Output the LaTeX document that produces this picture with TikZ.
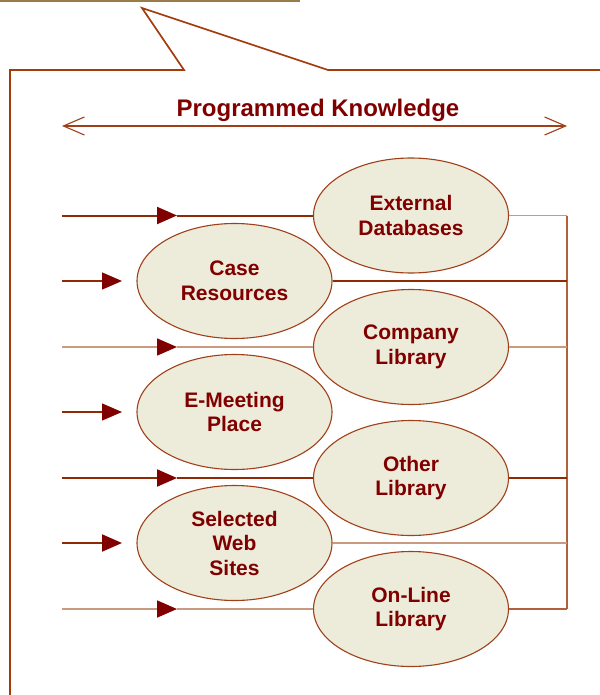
\documentclass[tikz,border=0pt]{standalone}
\usepackage{fontspec}
\setmainfont{Liberation Sans}
\usetikzlibrary{shapes.geometric,arrows.meta}
\definecolor{txt}{HTML}{800000}
\definecolor{fillc}{HTML}{EDEBDA}
\definecolor{edge}{HTML}{A0401A}
\definecolor{callout}{HTML}{A33C0C}
\definecolor{dk}{HTML}{8E2A05}
\definecolor{lt}{HTML}{C99A80}
\definecolor{md}{HTML}{B0603A}
\definecolor{bar}{HTML}{9C7B4B}
\begin{document}
\begin{tikzpicture}[x=1pt,y=-1pt,
  ell/.style={ellipse,draw=edge,line width=1.1pt,fill=fillc,minimum width=195pt,
    minimum height=115pt,inner sep=0pt,align=center,text=txt,
    font=\fontsize{21}{24.5}\selectfont\bfseries},
  tip/.style={-{Triangle[length=20pt,width=17pt,color=txt]}},
  dkthick/.style={draw=dk,line width=2pt},
  dkthin/.style={draw=dk,line width=1.3pt},
  ltline/.style={draw=lt,line width=1.6pt},
  mdline/.style={draw=md,line width=1.5pt},
  barb/.style={{Straight Barb[length=21pt,width=18pt]}-{Straight Barb[length=21pt,width=18pt]}}
]
\useasboundingbox (0,0) rectangle (599,695);
% top strip
\fill[bar] (0,0) rectangle (300,1.6);
% callout outline
\coordinate (c0) at (10,695);
\coordinate (c1) at (10,70);
\coordinate (c2) at (184,70);
\coordinate (c3) at (142,8);
\coordinate (c4) at (328,70);
\coordinate (c5) at (600,70);
\draw[callout,line width=1.7pt,line join=miter] (c0) -- (c1) -- (c2) -- (c3) -- (c4) -- (c5);
% title
\node[anchor=base,text=txt,font=\fontsize{24}{28}\selectfont\bfseries] (title) at (318,117) {Programmed Knowledge};
\coordinate (pl) at (62,126);
\coordinate (pr) at (567,126);
\draw[edge,line width=1.1pt,barb] (pl) -- (pr);
% ellipses
\node[ell] (ext) at (411,215.5) {External\\Databases};
\node[ell] (case) at (234.5,281) {Case\\Resources};
\node[ell] (comp) at (411,347) {Company\\Library};
\node[ell] (emeet) at (234.5,412) {E-Meeting\\Place};
\node[ell] (other) at (411,478) {Other\\Library};
\node[ell] (sel) at (234.5,543) {Selected\\Web\\Sites};
\node[ell] (online) at (411,609) {On-Line\\Library};
% inputs
\coordinate (a1) at (62,215.5); \coordinate (h1) at (177,215.5);
\coordinate (a2) at (62,281);   \coordinate (h2) at (122,281);
\coordinate (a3) at (62,347);   \coordinate (h3) at (177,347);
\coordinate (a4) at (62,412);   \coordinate (h4) at (122,412);
\coordinate (a5) at (62,478);   \coordinate (h5) at (177,478);
\coordinate (a6) at (62,543);   \coordinate (h6) at (122,543);
\coordinate (a7) at (62,609);   \coordinate (h7) at (177,609);
\draw[dkthick,tip] (a1) -- (h1); \draw[dkthick] (h1) -- (ext.west);
\draw[dkthin,tip] (a2) -- (h2);
\draw[ltline,tip] (a3) -- (h3); \draw[ltline] (h3) -- (comp.west);
\draw[dkthin,tip] (a4) -- (h4);
\draw[dkthick,tip] (a5) -- (h5); \draw[dkthick] (h5) -- (other.west);
\draw[dkthick,tip] (a6) -- (h6);
\draw[ltline,tip] (a7) -- (h7); \draw[ltline] (h7) -- (online.west);
% outputs
\coordinate (r1) at (567,215.5);
\coordinate (r2) at (567,281);
\coordinate (r3) at (567,347);
\coordinate (r5) at (567,478);
\coordinate (r6) at (567,543);
\coordinate (r7) at (567,609);
\draw[mdline] (r1) -- (r7);
\draw[ltline] (ext.east) -- (r1);
\draw[dkthin] (case.east) -- (r2);
\draw[ltline] (comp.east) -- (r3);
\draw[dkthick] (other.east) -- (r5);
\draw[ltline] (sel.east) -- (r6);
\draw[mdline] (online.east) -- (r7);
\end{tikzpicture}
\end{document}
